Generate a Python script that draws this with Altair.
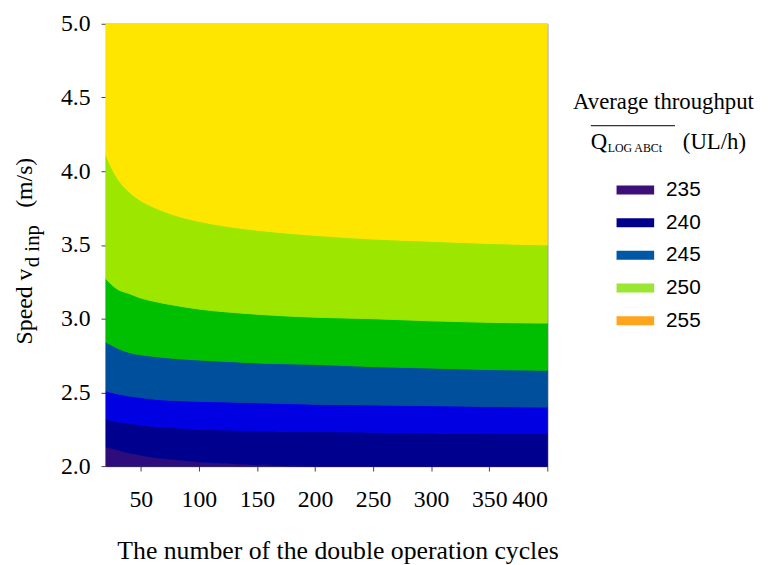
import altair as alt
import pandas as pd

# ---- data ----
x_vals = [20, 25, 30, 40, 50, 60, 80, 100, 125, 150, 200, 250, 300, 350, 400]
y_floor = 2.0
y_ceil = 5.0
b1 = [2.13, 2.12, 2.11, 2.09, 2.075, 2.06, 2.045, 2.03, 2.02, 2.01, 2.0, 2.0, 2.0, 2.0, 2.0]
b2 = [2.32, 2.31, 2.30, 2.29, 2.28, 2.27, 2.26, 2.25, 2.245, 2.24, 2.235, 2.23, 2.225, 2.22, 2.22]
b3 = [2.51, 2.50, 2.49, 2.475, 2.465, 2.455, 2.445, 2.44, 2.435, 2.43, 2.42, 2.415, 2.41, 2.405, 2.40]
b4 = [2.84, 2.82, 2.80, 2.77, 2.755, 2.745, 2.73, 2.72, 2.71, 2.70, 2.69, 2.675, 2.665, 2.655, 2.65]
b5 = [3.27, 3.23, 3.20, 3.17, 3.14, 3.12, 3.09, 3.065, 3.045, 3.03, 3.01, 3.0, 2.985, 2.975, 2.97]
b6 = [4.11, 4.02, 3.95, 3.86, 3.80, 3.76, 3.70, 3.66, 3.625, 3.60, 3.565, 3.54, 3.525, 3.51, 3.50]

band_names = ["b0", "b1", "b2", "b3", "b4", "b5", "b6"]
band_colors = ["#2E0C7C", "#00008E", "#0000E2", "#004F9C", "#00BE00", "#9CE600", "#FFE600"]

legend_labels = ["235", "240", "245", "250", "255"]
legend_colors = ["#3D0F78", "#00008B", "#0057A6", "#9AE633", "#FFA41C"]

x_ticks = [50, 100, 150, 200, 250, 300, 350, 400]
y_ticks = [2.0, 2.5, 3.0, 3.5, 4.0, 4.5, 5.0]

# ---- build table ----
n = len(x_vals)
bounds = [[y_floor] * n, b1, b2, b3, b4, b5, b6, [y_ceil] * n]
rows = []
for i, name in enumerate(band_names):
    for j, xv in enumerate(x_vals):
        rows.append({"band": name, "x": xv, "lo": bounds[i][j], "hi": bounds[i + 1][j]})
df = pd.DataFrame(rows)
leg_df = pd.DataFrame({"label": legend_labels})

SERIF = "Liberation Serif"
SANS = "Liberation Sans"

bands = alt.Chart(df).mark_area(interpolate="monotone", strokeWidth=1).encode(
    x=alt.X("x:Q", scale=alt.Scale(domain=[20, 400], nice=False, zero=False),
            axis=alt.Axis(values=x_ticks, title="The number of the double operation cycles",
                          titleFont=SERIF, titleFontSize=26, titleFontWeight="normal",
                          titleColor="black", titlePadding=26, titleX=234, titleAlign="center",
                          labelFont=SERIF, labelFontSize=24, labelColor="black",
                          labelPadding=17, tickSize=5, tickColor="#444",
                          domainColor="#444", grid=False)),
    y=alt.Y("lo:Q", scale=alt.Scale(domain=[2, 5], nice=False, zero=False),
            axis=alt.Axis(values=y_ticks, format=".1f", title="",
                          labelFont=SERIF, labelFontSize=24, labelColor="black",
                          labelPadding=11, tickSize=5, tickColor="#444",
                          domainColor="#444", grid=False)),
    y2="hi:Q",
    color=alt.Color("band:N", scale=alt.Scale(domain=band_names, range=band_colors), legend=None),
    stroke=alt.Stroke("band:N", scale=alt.Scale(domain=band_names, range=band_colors), legend=None),
)

legend_layer = alt.Chart(leg_df).mark_point(filled=True, opacity=0).encode(
    fill=alt.Fill("label:N", scale=alt.Scale(domain=legend_labels, range=legend_colors),
                  legend=alt.Legend(title="Average throughput", orient="none",
                                    legendX=472, legendY=68, titleLimit=400,
                                    titleFont=SERIF, titleFontSize=23, titleFontWeight="normal",
                                    titleColor="black", titlePadding=58,
                                    symbolType="M-1,-0.24H1V0.24H-1Z", symbolSize=1444,
                                    symbolStrokeWidth=0, symbolOpacity=1, symbolOffset=44,
                                    labelFont=SANS, labelFontSize=21, labelColor="black",
                                    labelOffset=12, rowPadding=4)),
)

def txt(s, x, y, size, font=SERIF, angle=0):
    return alt.Chart(pd.DataFrame({"t": [s]})).mark_text(
        align="left", baseline="alphabetic", font=font, fontSize=size,
        color="black", angle=angle).encode(x=alt.value(x), y=alt.value(y), text="t:N")

# y-axis title with subscript
yt1 = txt("Speed v", -75, 324, 24, angle=270)
yt2 = txt("d inp", -68, 246, 21, angle=270)
yt3 = txt("(m/s)", -75, 186, 24, angle=270)

# legend second title line
q1 = txt("Q", 490, 127, 23)
q2 = txt("LOG ABCt", 507, 130, 12)
q3 = txt("(UL/h)", 583, 127, 23)
overline = alt.Chart(pd.DataFrame({"t": [0]})).mark_rule(color="#333", strokeWidth=1.3).encode(
    x=alt.value(490), x2=alt.value(575), y=alt.value(103))

chart = alt.layer(bands, legend_layer, yt1, yt2, yt3, q1, q2, q3, overline).resolve_scale(
    color="independent", fill="independent", stroke="independent"
).properties(
    width=446, height=447,
    autosize=alt.AutoSizeParams(type="none"),
    padding={"left": 99, "top": 13, "right": 218, "bottom": 97},
).configure_view(stroke="#444", strokeWidth=1)

chart.save("out.html", embed_options={"renderer": "svg", "actions": False})
